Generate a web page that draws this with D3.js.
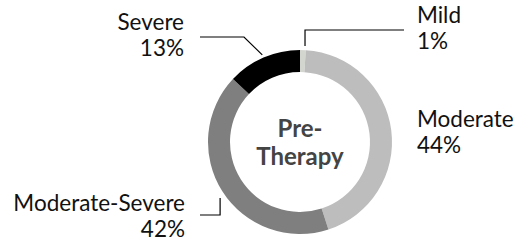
<!DOCTYPE html>
<html lang="en">
<head>
    <meta charset="UTF-8">
    <title>Pre-Therapy</title>
    <script src="https://d3js.org/d3.v7.min.js"></script>
    <style>
        body { margin: 0; background: #fff; }
        svg { display: block; font-family: Lato, "Open Sans", sans-serif; }
        .label { font-size: 22.5px; fill: #111; }
        .center { font-size: 24px; font-weight: bold; fill: #444; }
        .leader { fill: none; stroke: #000; stroke-width: 1.2; }
    </style>
</head>
<body>
    <svg id="chart" width="528" height="242"></svg>
    <script>
        const categories = ["Mild", "Moderate", "Moderate-Severe", "Severe"];
        const values = [1, 44, 42, 13];
        const colors = ["#d3d6cf", "#bdbdbd", "#7f7f7f", "#000000"];

        const width = 528, height = 242;
        const cx = 300, cy = 142;
        const outerR = 92, innerR = 70;

        const svg = d3.select("#chart");
        const g = svg.append("g").attr("transform", `translate(${cx},${cy})`);

        const data = categories.map((c, i) => ({ name: c, value: values[i], color: colors[i] }));
        const pie = d3.pie().value(d => d.value).sort(null);
        const arc = d3.arc().innerRadius(innerR).outerRadius(outerR);
        const arcs = pie(data);

        g.selectAll("path.slice")
            .data(arcs)
            .enter().append("path")
            .attr("class", "slice")
            .attr("d", arc)
            .attr("fill", d => d.data.color);

        // center title
        const title = g.append("text").attr("class", "center").attr("text-anchor", "middle");
        title.append("tspan").attr("x", 0).attr("y", -5).text("Pre-");
        title.append("tspan").attr("x", 0).attr("y", 23).text("Therapy");

        // leader lines start just outside the middle of each slice
        const onRing = (d, r) => {
            const a = (d.startAngle + d.endAngle) / 2;
            return [Math.sin(a) * r, -Math.cos(a) * r];
        };

        const mA = onRing(arcs[0], 96);
        const sA = onRing(arcs[3], 95);
        const msA = onRing(arcs[2], 97);

        const line = d3.line();
        g.append("path").attr("class", "leader")
            .attr("d", line([[mA[0] + 2, mA[1]], [mA[0] + 2, -112], [104, -112]]));
        g.append("path").attr("class", "leader")
            .attr("d", line([sA, [-56, -105], [-100, -105]]));
        g.append("path").attr("class", "leader")
            .attr("d", line([[msA[0] + 2, msA[1] + 4], [msA[0] + 2, 73], [-100, 73]]));

        // labels
        const labelPos = [
            { x: 417, y: 23, anchor: "start" },
            { x: 417, y: 127, anchor: "start" },
            { x: 185, y: 211, anchor: "end" },
            { x: 184, y: 30, anchor: "end" }
        ];
        const labels = svg.selectAll("text.label")
            .data(data)
            .enter().append("text")
            .attr("class", "label")
            .attr("text-anchor", (d, i) => labelPos[i].anchor);
        labels.append("tspan")
            .attr("x", (d, i) => labelPos[i].x)
            .attr("y", (d, i) => labelPos[i].y)
            .text(d => d.name);
        labels.append("tspan")
            .attr("x", (d, i) => labelPos[i].x)
            .attr("y", (d, i) => labelPos[i].y + 26)
            .text(d => d.value + "%");
    </script>
</body>
</html>
